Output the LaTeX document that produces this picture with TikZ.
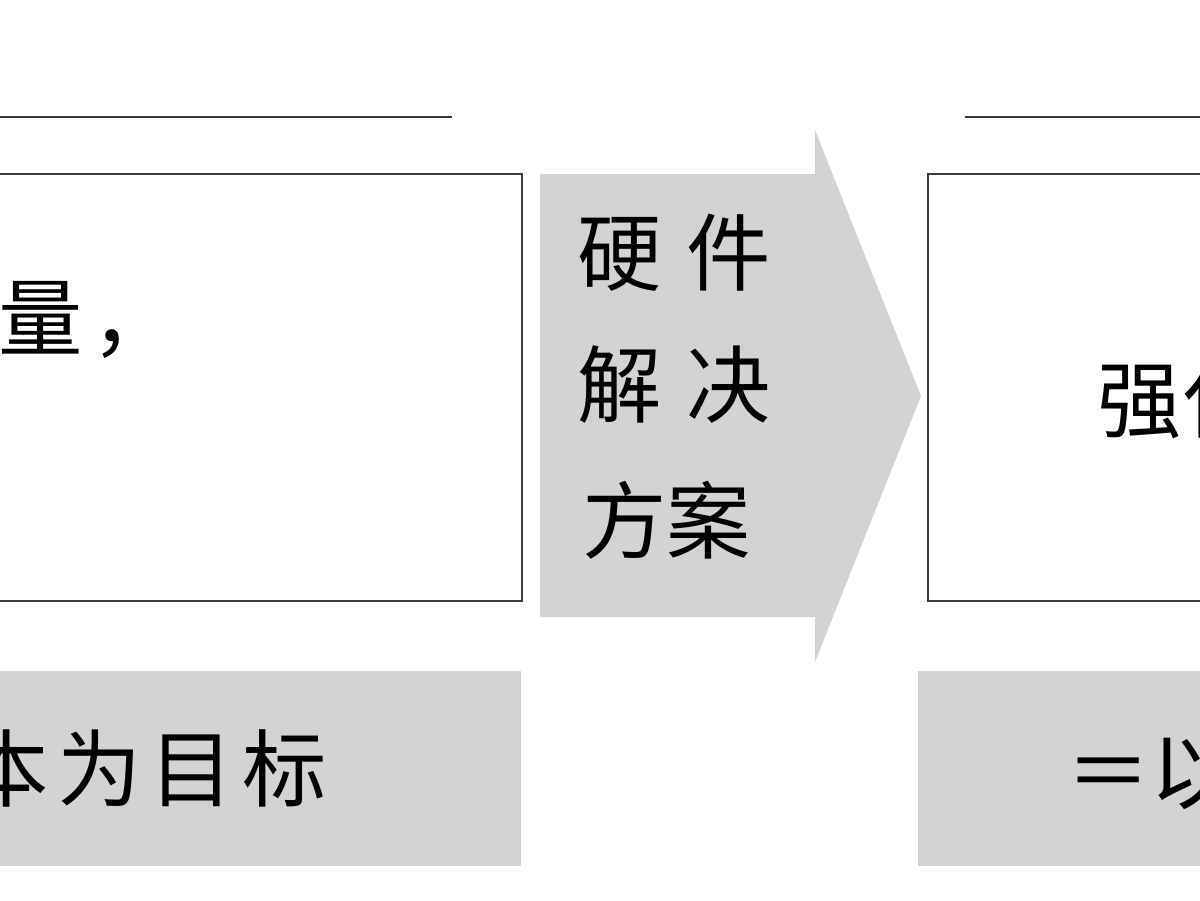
\documentclass[tikz,border=0pt]{standalone}
\usepackage{fontspec}
\setmainfont{Noto Sans CJK SC}
\usepackage{tikz}
\definecolor{panelgray}{RGB}{211,211,211}
\definecolor{edgegray}{RGB}{60,60,60}

\begin{document}
\begin{tikzpicture}[x=0.02cm,y=-0.02cm,
    txt/.style={anchor=west,inner sep=0pt,font=\fontsize{48}{56}\selectfont},
    wide/.style={txt,font=\fontsize{48}{56}\selectfont\addfontfeature{LetterSpace=10}},
    frame/.style={draw=edgegray,line width=0.8pt}]
			\useasboundingbox (0,0) rectangle (1200,900);
			\clip (0,0) rectangle (1200,900);
			% rules over the two columns
			\draw[edgegray,line width=0.9pt] (-10,117) -- (452,117);
			\draw[edgegray,line width=0.9pt] (965,117) -- (1210,117);
			% boxes
			\draw[frame,fill=white] (-10,174) rectangle (522,601);
			\draw[frame,fill=white] (928,174) rectangle (1210,601);
			\fill[panelgray] (-10,671) rectangle (521,866);
			\fill[panelgray] (918,671) rectangle (1210,866);
			% block arrow
			\fill[panelgray] (540,174) -- (815,174) -- (815,130) -- (921,396)
				-- (815,662) -- (815,617) -- (540,617) -- cycle;
			\node[txt] (hw1) at (577,253) {硬\hspace{0.3em}件};
			\node[txt] (hw2) at (577,385) {解\hspace{0.3em}决};
			\node[txt] (hw3) at (582,520) {方案};
			% texts of the boxes
			\node[wide] (lefttxt) at (-2,320) {量，};
			\node[txt] (righttxt) at (1097,400) {强化};
			\node[wide] (leftgoal) at (-36,768) {本为目标};
			\node[txt] (rightgoal) at (1066,772) {＝以};
		\end{tikzpicture}
\end{document}
